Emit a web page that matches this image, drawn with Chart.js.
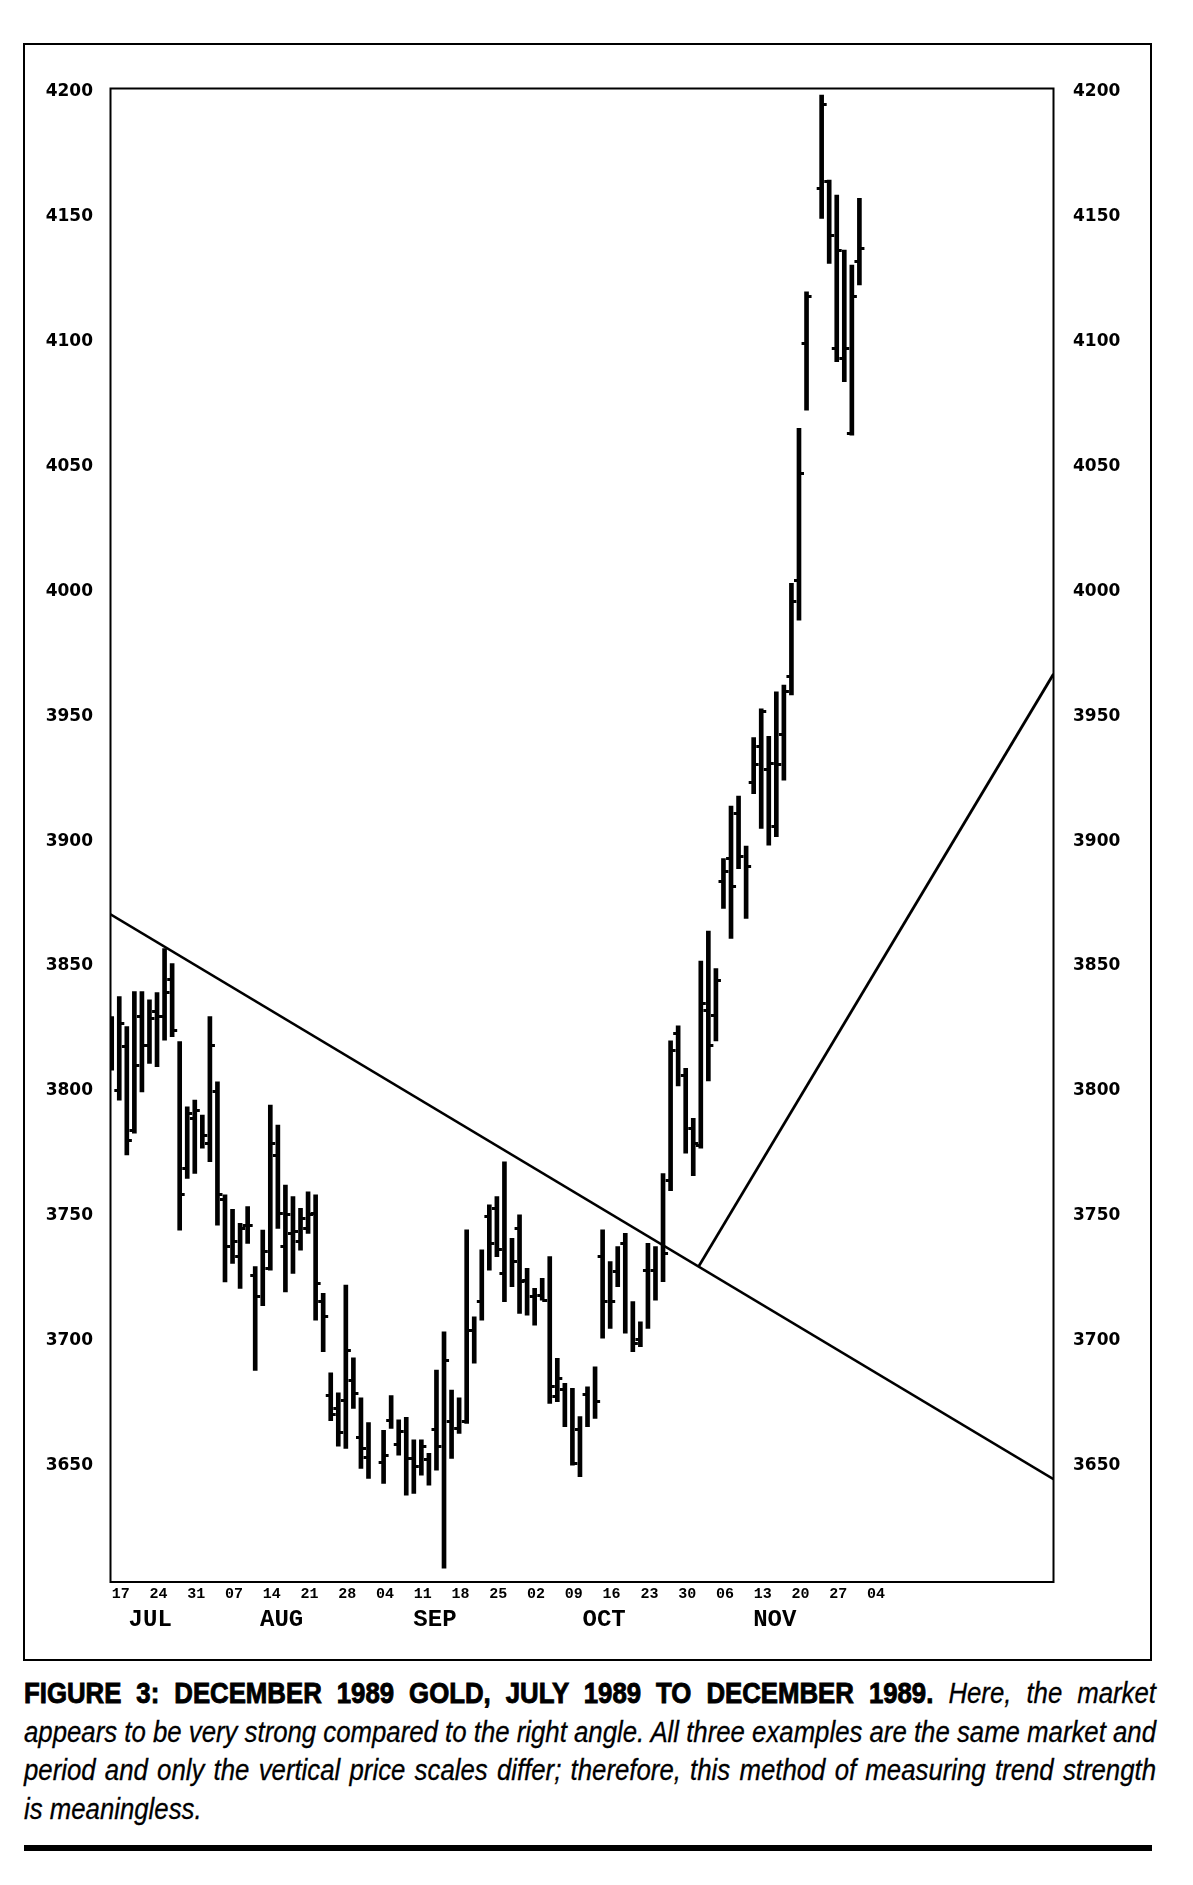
<!DOCTYPE html>
<html>
<head>
<meta charset="utf-8">
<title>December 1989 Gold</title>
<script src="https://cdn.jsdelivr.net/npm/chart.js@4.4.1/dist/chart.umd.min.js"></script>
<style>
  html, body { margin: 0; padding: 0; background: #fff; }
  body { width: 1193px; height: 1885px; position: relative; overflow: hidden; }
  #frame { position: absolute; left: 23px; top: 43px; width: 1125px; height: 1614px; border: 2px solid #000; }
  #frame canvas { display: block; }
  #caption { position: absolute; left: 24px; top: 1674px; width: 1132px; color: #000;
             font-family: "Liberation Sans", Arial, sans-serif; font-size: 29px; line-height: 38.5px; }
  .ln { display: inline-block; white-space: nowrap; transform-origin: 0 0; }
  .ln b { font-weight: 700; -webkit-text-stroke: 0.9px #000; }
  .ln i { font-style: italic; font-weight: 400; -webkit-text-stroke: 0.3px #000; }
  #rule { position: absolute; left: 24px; top: 1845px; width: 1128px; height: 6px; background: #000; }
</style>
</head>
<body>
<div id="frame"><canvas id="goldChart" width="1125" height="1614"></canvas></div>
<div id="caption">
  <div class="ln"><b>FIGURE 3: DECEMBER 1989 GOLD, JULY 1989 TO DECEMBER 1989.</b> <i>Here, the market</i></div><br>
  <div class="ln"><i>appears to be very strong compared to the right angle. All three examples are the same market and</i></div><br>
  <div class="ln"><i>period and only the vertical price scales differ; therefore, this method of measuring trend strength</i></div><br>
  <div class="ln"><i>is meaningless.</i></div>
</div>
<div id="rule"></div>
<script>
// trading-day index counted from Mon 17 Jul 1989 (35 = Labor Day, 93 = Thanksgiving: no bars)
const dayIndex = [0,1,2,3,4,5,6,7,8,9,10,11,12,13,14,15,16,17,18,19,20,21,22,23,24,25,26,27,28,29,30,31,32,33,34,
  36,37,38,39,40,41,42,43,44,45,46,47,48,49,50,51,52,53,54,55,56,57,58,59,60,61,62,63,64,65,66,67,68,69,70,
  71,72,73,74,75,76,77,78,79,80,81,82,83,84,85,86,87,88,89,90,91,92,94,95,96,97,98,99];

const highs = [3829.7,3837.7,3825.7,3839.7,3839.7,3836.4,3839.3,3857.0,3851.0,3819.7,3793.6,3796.3,3790.3,3829.7,3803.6,
  3758.3,3752.5,3746.9,3753.6,3729.6,3744.2,3794.3,3786.3,3762.3,3757.6,3752.9,3759.6,3758.3,3718.9,3687.1,3679.1,3722.2,
  3693.1,3677.1,3667.1,
  3664.0,3678.0,3668.2,3669.2,3660.2,3660.2,3654.8,3688.2,3703.5,3680.2,3677.1,3744.3,3709.5,3736.3,3754.3,3757.6,3771.6,
  3740.9,3750.3,3728.9,3720.9,3724.9,3733.6,3692.9,3682.9,3680.9,3669.5,3681.5,3689.5,3744.3,3731.6,3737.6,3742.9,3715.6,
  3707.5,3738.9,3737.6,3766.9,3820.0,3826.0,3809.0,3789.0,3852.0,3864.0,3849.0,3893.0,3914.0,3918.0,3898.0,3941.5,3953.0,
  3942.0,3959.8,3962.5,4003.2,4065.3,4120.0,4198.8,4164.7,4158.7,4136.7,4130.7,4157.4];

const lows = [3808.3,3796.3,3774.3,3783.0,3799.6,3811.0,3809.7,3820.3,3821.7,3744.2,3764.9,3766.9,3777.0,3771.6,3746.2,
  3723.5,3730.9,3720.9,3738.9,3688.0,3714.0,3728.2,3744.9,3719.5,3726.9,3736.2,3742.9,3708.2,3695.5,3667.9,3657.7,3656.8,
  3672.8,3648.8,3644.8,
  3642.8,3664.8,3654.1,3638.1,3638.8,3646.1,3642.1,3648.1,3608.8,3652.8,3662.8,3666.8,3690.9,3708.2,3728.2,3733.6,3715.6,
  3721.6,3710.9,3710.2,3706.2,3716.2,3674.8,3675.5,3665.5,3650.1,3645.5,3665.5,3668.8,3700.9,3704.9,3721.6,3702.9,3695.5,
  3697.5,3704.9,3716.2,3723.6,3760.0,3802.0,3775.0,3766.0,3777.0,3804.0,3820.0,3873.0,3861.0,3889.0,3869.0,3919.0,3905.1,
  3898.4,3901.8,3924.4,3958.5,3988.5,4072.6,4149.4,4131.4,4092.0,4084.0,4062.6,4122.7];

const opens = [3814.3,3800.3,3817.7,3784.3,3829.7,3818.3,3831.7,3829.7,3844.4,null,3768.9,3789.0,null,3779.0,3799.6,
  3756.3,null,3733.6,3746.2,3726.2,null,3728.9,3774.3,3737.6,3742.9,3739.6,3744.9,3750.9,3715.6,3677.9,3672.8,3675.9,
  3683.9,3661.1,3653.2,
  3651.3,3668.0,3658.2,null,3652.8,null,3652.2,3664.2,null,3667.5,3664.8,3667.5,3704.2,3715.6,3749.6,3752.9,3726.9,
  null,3744.9,3724.2,3717.6,3718.2,null,3677.5,3680.2,null,3664.2,3678.2,null,3733.6,null,3727.6,3739.0,null,
  3700.4,3728.2,3728.2,null,3764.0,3823.0,3806.0,3785.0,3778.0,3832.0,3830.0,3884.0,3893.0,3911.0,null,3923.5,3938.0,
  3928.5,3905.8,3942.5,3965.8,4004.5,4099.3,4161.4,4164.0,4097.3,4093.3,4063.3,4132.0];

const closes = [null,3827.0,3780.3,3810.3,3818.3,3829.0,3829.7,3839.3,3824.3,3758.3,3791.0,3792.3,3782.3,3818.3,3758.3,
  3737.6,3739.6,3744.9,3746.2,3717.5,3735.6,3778.9,3750.9,3750.3,3743.6,3748.9,3750.3,3722.9,3709.5,3670.2,3663.1,3696.2,
  3678.8,3656.8,null,
  3654.1,null,3663.5,3652.8,3649.5,3657.5,null,3657.5,3692.2,null,null,3704.2,null,null,3738.9,3736.3,null,
  3731.6,3723.6,null,null,3716.2,3681.5,3684.9,null,3650.8,null,null,3675.5,3715.6,3715.6,null,null,3698.9,
  null,null,null,3734.9,3816.0,null,null,3779.0,3835.0,3818.0,3844.0,3888.0,3882.0,3894.0,3890.0,3930.5,3951.8,
  3931.0,3930.5,3960.0,3995.8,4047.2,4118.0,4194.8,4142.7,4136.7,4097.3,4118.0,4137.4];

// the two drawn lines: [index, price] at each end
const trendDown = [[-0.16, 3870.7], [124.7, 3644.5]];
const trendUp = [[77.7, 3729.6], [124.7, 3966.9]];

const priceTicks = [3650, 3700, 3750, 3800, 3850, 3900, 3950, 4000, 4050, 4100, 4150, 4200];
const weekTickIdx = [0,5,10,15,20,25,30,35,40,45,50,55,60,65,70,75,80,85,90,95,100];
const weekLabels = ['17','24','31','07','14','21','28','04','11','18','25','02','09','16','23','30','06','13','20','27','04'];
const monthTickIdx = [5.1, 22.5, 42.8, 65.2, 87.8];
const monthLabels = ['JUL', 'AUG', 'SEP', 'OCT', 'NOV'];

const xMin = -0.16, xMax = 124.7;
const yMin = 3603.3, yMax = 4201.4;

function tickMark(side) {
  const c = document.createElement('canvas');
  c.width = 16; c.height = 3;
  const g = c.getContext('2d');
  g.fillStyle = '#000';
  g.fillRect(side > 0 ? 8 : 3, 0, 5, 3);
  return c;
}

function points(vals) {
  const out = [];
  dayIndex.forEach((d, i) => { if (vals[i] !== null) out.push({x: d, y: vals[i]}); });
  return out;
}

const plotBox = {
  id: 'plotBox',
  afterDatasetsDraw(chart) {
    const a = chart.chartArea, c = chart.ctx;
    c.save();
    c.strokeStyle = '#000';
    c.lineWidth = 2;
    c.strokeRect(a.left, a.top, a.right - a.left, a.bottom - a.top);
    c.restore();
  }
};

document.addEventListener('DOMContentLoaded', function() {
  const ctx = document.getElementById('goldChart').getContext('2d');
  const mono = '"Liberation Mono", "Courier New", monospace';
  const hiddenGrid = {display: false, drawTicks: false};

  const goldChart = new Chart(ctx, {
    type: 'bar',
    data: {
      datasets: [
        {
          type: 'bar',
          data: dayIndex.map((d, i) => ({x: d, y: [lows[i], highs[i]]})),
          backgroundColor: '#000',
          borderWidth: 0,
          barThickness: 4,
          borderSkipped: false
        },
        {
          type: 'line', showLine: false,
          data: points(opens),
          pointStyle: tickMark(-1), pointRadius: 3
        },
        {
          type: 'line', showLine: false,
          data: points(closes),
          pointStyle: tickMark(1), pointRadius: 3
        },
        {
          type: 'line',
          data: trendDown.map(p => ({x: p[0], y: p[1]})),
          borderColor: '#000', borderWidth: 2.5, pointRadius: 0
        },
        {
          type: 'line',
          data: trendUp.map(p => ({x: p[0], y: p[1]})),
          borderColor: '#000', borderWidth: 2.8, pointRadius: 0
        }
      ]
    },
    options: {
      responsive: false,
      animation: false,
      layout: {padding: {top: 43.5, left: 0, right: 0, bottom: 0}},
      plugins: {legend: {display: false}, tooltip: {enabled: false}},
      scales: {
        x: {
          type: 'linear', position: 'bottom', weight: 0, min: xMin, max: xMax, offset: false,
          grid: hiddenGrid, border: {display: false},
          afterBuildTicks: s => { s.ticks = weekTickIdx.map(v => ({value: v})); },
          afterFit: s => { s.height = 22; },
          ticks: {
            autoSkip: false, maxRotation: 0, align: 'start', padding: 3, color: '#000',
            font: {family: mono, size: 15, weight: 'bold'},
            callback: (v, i) => weekLabels[i]
          }
        },
        xMonth: {
          type: 'linear', position: 'bottom', weight: 1, min: xMin, max: xMax, offset: false,
          grid: hiddenGrid, border: {display: false},
          afterBuildTicks: s => { s.ticks = monthTickIdx.map(v => ({value: v})); },
          afterFit: s => { s.height = 55; },
          ticks: {
            autoSkip: false, maxRotation: 0, padding: 2, color: '#000',
            font: {family: mono, size: 24, weight: 'bold'},
            callback: (v, i) => monthLabels[i]
          }
        },
        y: {
          type: 'linear', position: 'left', min: yMin, max: yMax,
          grid: hiddenGrid, border: {display: false},
          afterBuildTicks: s => { s.ticks = priceTicks.map(v => ({value: v})); },
          afterFit: s => { s.width = 85.5; },
          ticks: {
            padding: 17.5, color: '#000',
            font: {family: '"DejaVu Sans", sans-serif', size: 17, weight: 'bold'},
            callback: v => String(v)
          }
        },
        yRight: {
          type: 'linear', position: 'right', display: true, min: yMin, max: yMax,
          grid: hiddenGrid, border: {display: false},
          afterBuildTicks: s => { s.ticks = priceTicks.map(v => ({value: v})); },
          afterFit: s => { s.width = 96.5; },
          ticks: {
            padding: 19.5, color: '#000',
            font: {family: '"DejaVu Sans", sans-serif', size: 17, weight: 'bold'},
            callback: v => String(v)
          }
        }
      }
    },
    plugins: [plotBox]
  });

  // caption: squeeze glyphs to a condensed look, then justify by word spacing
  const target = 1132;
  const lines = Array.from(document.querySelectorAll('#caption .ln'));
  const widths = lines.map(el => el.getBoundingClientRect().width);
  let scale = 1;
  for (let k = 0; k < 3; k++) scale = Math.min(scale, target / widths[k]);
  lines.forEach((el, k) => {
    if (k < 3) {
      const gaps = (el.textContent.match(/ /g) || []).length;
      el.style.wordSpacing = ((target / scale - widths[k]) / gaps) + 'px';
    }
    el.style.transform = 'scaleX(' + scale + ')';
  });
});
</script>
</body>
</html>
